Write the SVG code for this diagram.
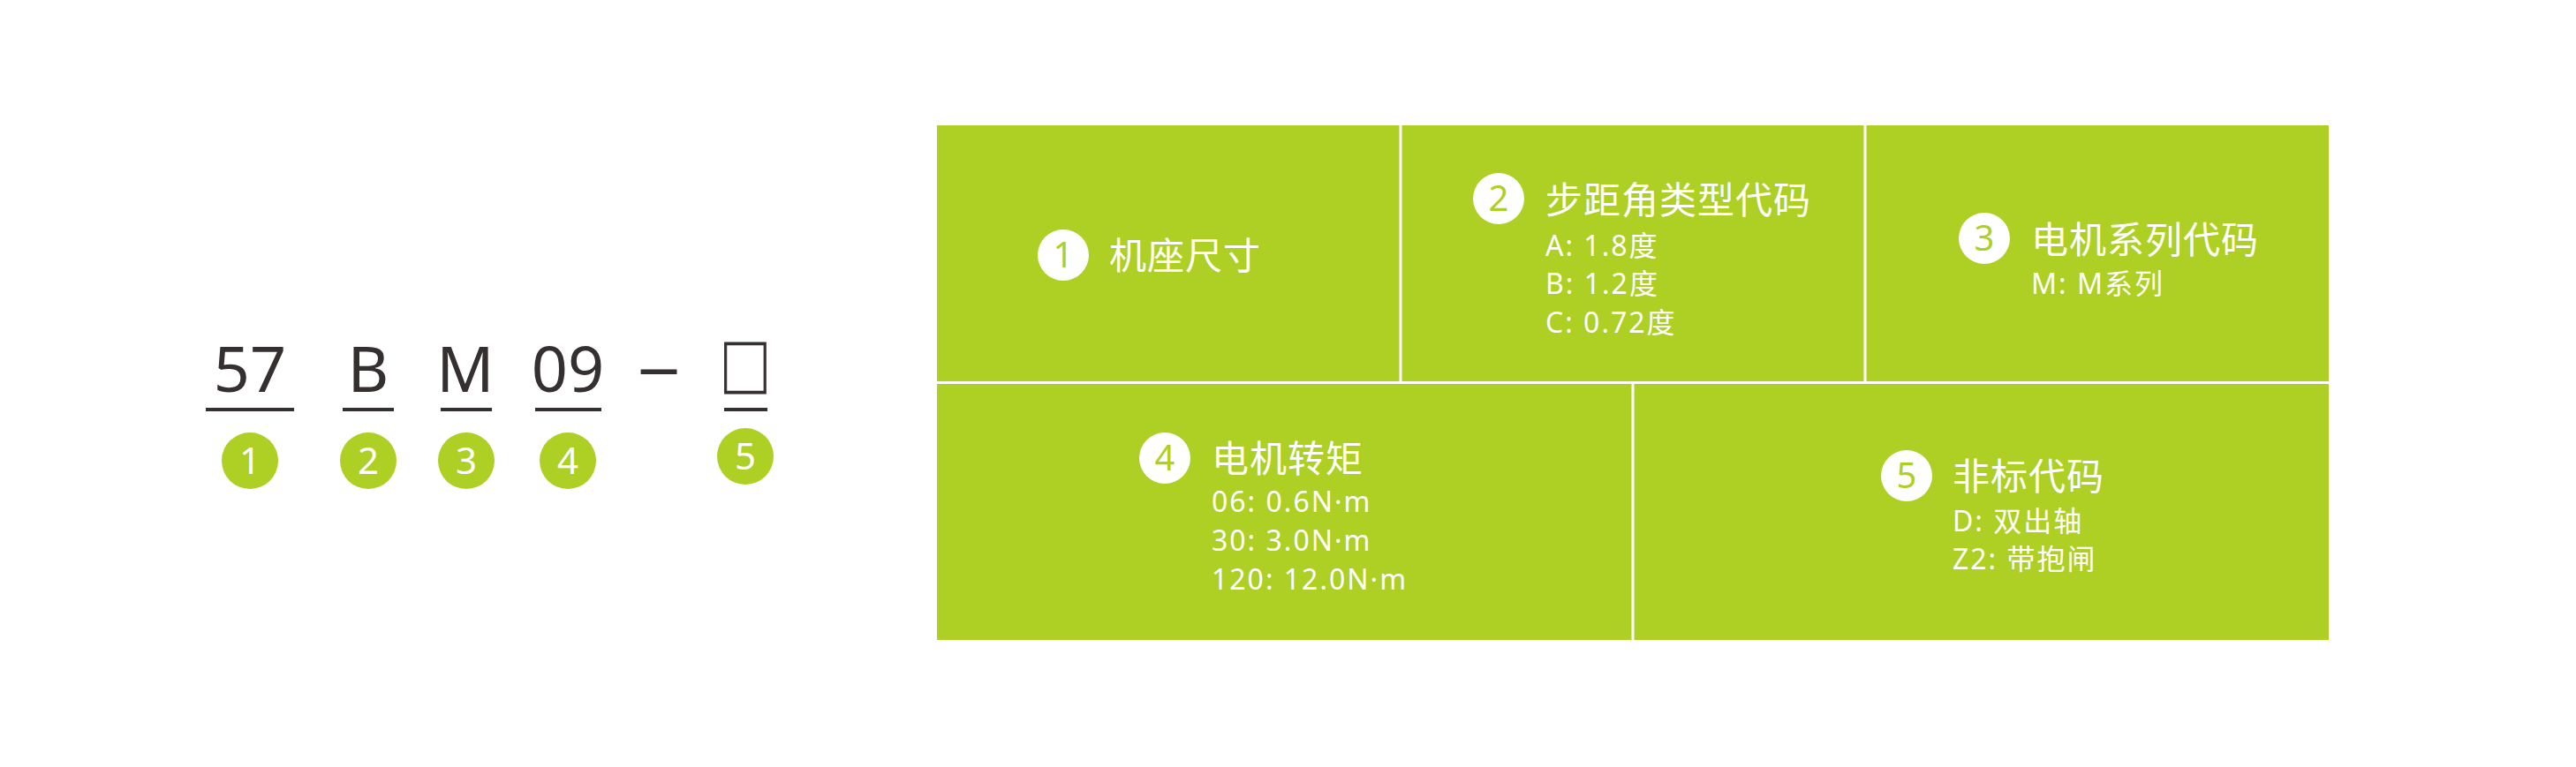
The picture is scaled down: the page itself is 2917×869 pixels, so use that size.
<svg xmlns="http://www.w3.org/2000/svg" width="2917" height="869" viewBox="0 0 2917 869">
<style>
.code{font-family:"Noto Sans","Noto Sans CJK SC",sans-serif;font-size:72px;fill:#352f2f;text-anchor:middle}
.uline{stroke:#352f2f;stroke-width:4}
.gdot{fill:#aecf24}
.gnum{font-family:"Noto Sans",sans-serif;font-size:42px;fill:#ffffff;text-anchor:middle}
.cell{fill:#aecf24}
.div{stroke:#ffffff;stroke-width:3}
.wdot{fill:#ffffff}
.wnum{font-family:"Noto Sans",sans-serif;font-size:40px;fill:#aecf24;text-anchor:middle}
.title{font-family:"Noto Sans","Noto Sans CJK SC",sans-serif;font-size:42px;fill:#ffffff;letter-spacing:1px}
.sub{font-family:"Noto Sans","Noto Sans CJK SC",sans-serif;font-size:32px;fill:#ffffff;letter-spacing:2px}
</style>
<rect width="2917" height="869" fill="#ffffff"/>
<g id="code">
  <g id="code-57"><text class="code" x="283" y="444">57</text><line class="uline" x1="233" y1="464" x2="333" y2="464"/><circle class="gdot" cx="283" cy="522" r="32"/><text class="gnum" x="283" y="537">1</text></g>
  <g id="code-B"><text class="code" x="417" y="444">B</text><line class="uline" x1="388" y1="464" x2="446" y2="464"/><circle class="gdot" cx="417" cy="522" r="32"/><text class="gnum" x="417" y="537">2</text></g>
  <g id="code-M"><text class="code" x="527" y="444">M</text><line class="uline" x1="499" y1="464" x2="557" y2="464"/><circle class="gdot" cx="528" cy="522" r="32"/><text class="gnum" x="528" y="537">3</text></g>
  <g id="code-09"><text class="code" x="643" y="444">09</text><line class="uline" x1="606" y1="464" x2="681" y2="464"/><circle class="gdot" cx="643" cy="522" r="32"/><text class="gnum" x="643" y="537">4</text></g>
  <g id="code-dash"><text class="code" x="746" y="440" transform="translate(746,0) scale(1.35,1) translate(-746,0)">–</text></g>
  <g id="code-box"><text class="code" x="844" y="444" style="font-family:'Noto Sans CJK SC',sans-serif;stroke:#352f2f;stroke-width:1.2" transform="translate(844,0) scale(0.81,1) translate(-844,0)">□</text><line class="uline" x1="820" y1="464" x2="869" y2="464"/><circle class="gdot" cx="844" cy="517" r="32"/><text class="gnum" x="844" y="532">5</text></g>
</g>
<g id="table">
  <rect class="cell" x="1061" y="142" width="1576" height="583"/>
  <g id="connectors">
    <line class="div" x1="1061" y1="433.5" x2="2637" y2="433.5"/>
    <line class="div" x1="1586" y1="142" x2="1586" y2="433"/>
    <line class="div" x1="2112" y1="142" x2="2112" y2="433"/>
    <line class="div" x1="1849" y1="434" x2="1849" y2="725"/>
  </g>
  <g id="cell1"><circle class="wdot" cx="1204" cy="289" r="29"/><text class="wnum" x="1204" y="303">1</text><text class="title" x="1256" y="305">机座尺寸</text></g>
  <g id="cell2"><circle class="wdot" cx="1697" cy="225" r="29"/><text class="wnum" x="1697" y="239">2</text><text class="title" x="1750" y="242">步距角类型代码</text>
    <text class="sub" x="1750" y="290">A: 1.8度</text><text class="sub" x="1750" y="333">B: 1.2度</text><text class="sub" x="1750" y="377">C: 0.72度</text></g>
  <g id="cell3"><circle class="wdot" cx="2247" cy="270" r="29"/><text class="wnum" x="2247" y="284">3</text><text class="title" x="2300" y="287">电机系列代码</text>
    <text class="sub" x="2300" y="333">M: M系列</text></g>
  <g id="cell4"><circle class="wdot" cx="1319" cy="519" r="29"/><text class="wnum" x="1319" y="533">4</text><text class="title" x="1372" y="535">电机转矩</text>
    <text class="sub" x="1372" y="580">06: 0.6N·m</text><text class="sub" x="1372" y="624">30: 3.0N·m</text><text class="sub" x="1372" y="668">120: 12.0N·m</text></g>
  <g id="cell5"><circle class="wdot" cx="2159" cy="539" r="29"/><text class="wnum" x="2159" y="553">5</text><text class="title" x="2211" y="555">非标代码</text>
    <text class="sub" x="2211" y="602">D: 双出轴</text><text class="sub" x="2211" y="645">Z2: 带抱闸</text></g>
</g>
</svg>
